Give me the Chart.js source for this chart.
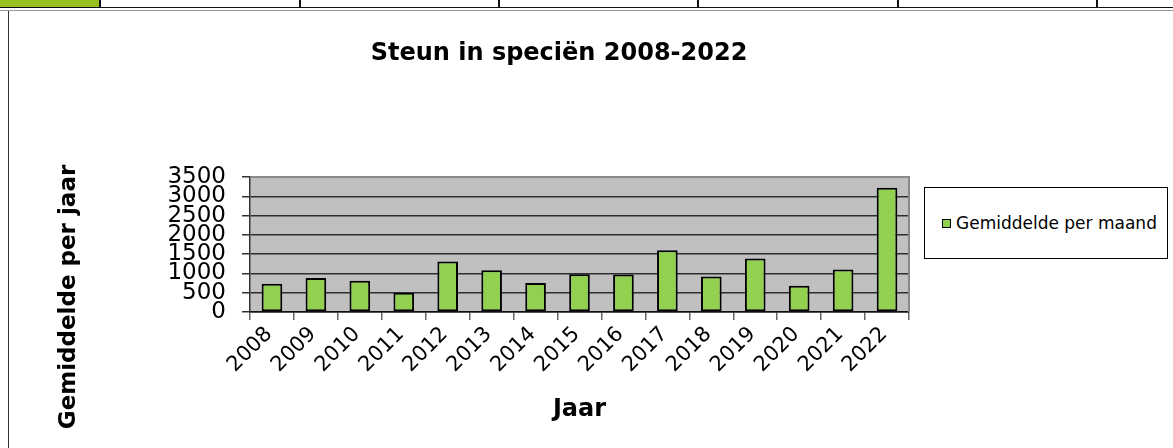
<!DOCTYPE html>
<html>
<head>
<meta charset="utf-8">
<title>Steun in speciën 2008-2022</title>
<script src="https://cdn.jsdelivr.net/npm/chart.js@4.4.1/dist/chart.umd.min.js"></script>
<style>
  html, body { margin: 0; padding: 0; width: 1173px; height: 448px; overflow: hidden; background: #fff; }
  body { font-family: "DejaVu Sans", Verdana, sans-serif; }
  #page { position: relative; width: 1173px; height: 448px; }
  .tab-on { position: absolute; left: 0; top: 0; width: 99px; height: 7px; background: #96c11f; }
  .sep { position: absolute; top: 0; width: 2px; height: 8px; background: #111; }
  .rule-dark { position: absolute; left: 0; top: 7px; width: 1173px; height: 1px; background: #111; }
  .rule-grey { position: absolute; left: 0; top: 10px; width: 1173px; height: 1px; background: #9a9a9a; }
  .frame-left { position: absolute; left: 8px; top: 11px; width: 1px; height: 437px; background: #333; }
  #chart { position: absolute; left: 0; top: 0; }
  .y-title {
    position: absolute; left: -83px; top: 283px; width: 300px; height: 28px; line-height: 28px;
    text-align: center; font-weight: bold; font-size: 23px; color: #000;
    transform: rotate(-90deg); transform-origin: 50% 50%; white-space: nowrap;
  }
  .legend {
    position: absolute; left: 924px; top: 187px; width: 244px; height: 72px;
    border: 1px solid #000; background: #fff; box-sizing: border-box;
  }
  .legend .swatch {
    position: absolute; left: 17px; top: 31px; width: 9px; height: 9px;
    background: #92d050; border: 1px solid #000; box-sizing: border-box;
  }
  .legend .label {
    position: absolute; left: 31px; top: 25px; font-size: 17px; line-height: 20px; color: #000; white-space: nowrap;
  }
</style>
</head>
<body>
<div id="page">
  <div class="tab-on"></div>
  <div class="sep" style="left:99px"></div>
  <div class="sep" style="left:299px"></div>
  <div class="sep" style="left:498px"></div>
  <div class="sep" style="left:697px"></div>
  <div class="sep" style="left:897px"></div>
  <div class="sep" style="left:1096px"></div>
  <div class="rule-dark"></div>
  <div class="rule-grey"></div>
  <div class="frame-left"></div>
  <canvas id="chart" width="1118" height="448"></canvas>
  <div class="y-title">Gemiddelde per jaar</div>
  <div class="legend"><span class="swatch"></span><span class="label" id="legendLabel"></span></div>
</div>
<script>
// Yearly figures
const years = ['2008', '2009', '2010', '2011', '2012', '2013', '2014', '2015',
               '2016', '2017', '2018', '2019', '2020', '2021', '2022'];
const gemiddeldePerMaand = [730, 880, 810, 500, 1310, 1080, 750, 980,
                            970, 1600, 920, 1390, 680, 1100, 3220];
const yTicks = [0, 500, 1000, 1500, 2000, 2500, 3000, 3500];

const seriesLabel = 'Gemiddelde per maand';
const FONT = '"DejaVu Sans", Verdana, sans-serif';

document.getElementById('legendLabel').textContent = seriesLabel;

// Grey plot background plus the light frame on top and right
const plotFrame = {
  id: 'plotFrame',
  afterLayout(chart) {
    // centre the chart title over the band that ends at the plot's right edge
    if (chart.titleBlock) chart.titleBlock.left = 209;
  },
  beforeDraw(chart) {
    const { ctx, chartArea: a } = chart;
    ctx.save();
    ctx.fillStyle = '#c0c0c0';
    ctx.fillRect(a.left, a.top, a.right - a.left, a.bottom - a.top);
    ctx.restore();
  },
  beforeDatasetsDraw(chart) {
    const { ctx, chartArea: a } = chart;
    ctx.save();
    ctx.strokeStyle = '#8a8a8a';
    ctx.lineWidth = 2;
    ctx.beginPath();
    ctx.moveTo(a.left, a.top);
    ctx.lineTo(a.right, a.top);
    ctx.lineTo(a.right, a.bottom);
    ctx.stroke();
    ctx.restore();
  }
};

new Chart(document.getElementById('chart'), {
  type: 'bar',
  data: {
    labels: years,
    datasets: [{
      label: seriesLabel,
      data: gemiddeldePerMaand,
      backgroundColor: '#92d050',
      borderColor: '#000',
      borderWidth: 2,
      borderSkipped: false,
      barPercentage: 0.47,
      categoryPercentage: 1
    }]
  },
  options: {
    responsive: false,
    animation: false,
    devicePixelRatio: 1,
    layout: { padding: { left: 0, right: 209, top: 0, bottom: 0 } },
    plugins: {
      legend: { display: false },
      tooltip: { enabled: false },
      title: {
        display: true,
        text: 'Steun in speciën 2008-2022',
        color: '#000',
        font: { family: FONT, size: 24, weight: 'bold', lineHeight: 1.2 },
        padding: { top: 39.6, bottom: 108.6 }
      }
    },
    scales: {
      x: {
        offset: true,
        grid: {
          display: true, offset: true, drawOnChartArea: false, drawTicks: true,
          tickLength: 8, color: '#666', tickColor: '#666', lineWidth: 1.5
        },
        border: { display: true, color: '#111', width: 1.5 },
        ticks: {
          color: '#000', autoSkip: false, minRotation: 45, maxRotation: 45,
          padding: 2, labelOffset: -3,
          font: { family: FONT, size: 21, lineHeight: 1.2 }
        },
        title: {
          display: true, text: 'Jaar', color: '#000',
          font: { family: FONT, size: 24, weight: 'bold', lineHeight: 1.2 },
          padding: { top: 0, bottom: 23.6 }
        },
        afterFit(scale) { scale.height = 136; }
      },
      y: {
        min: 0, max: 3500,
        afterBuildTicks(scale) { scale.ticks = yTicks.map(v => ({ value: v })); },
        grid: {
          drawTicks: true, tickLength: 8, lineWidth: 1.5,
          color: (c) => (c.tick && c.tick.value === 3500 ? '#8a8a8a' : '#2e2e2e'),
          tickColor: '#333'
        },
        border: { display: true, color: '#333', width: 1.5 },
        ticks: {
          color: '#000', autoSkip: false, padding: 16,
          font: { family: FONT, size: 23, lineHeight: 1.2 },
          callback: (v) => String(v)
        },
        afterFit(scale) { scale.width = 250; }
      }
    }
  },
  plugins: [plotFrame]
});
</script>
</body>
</html>
